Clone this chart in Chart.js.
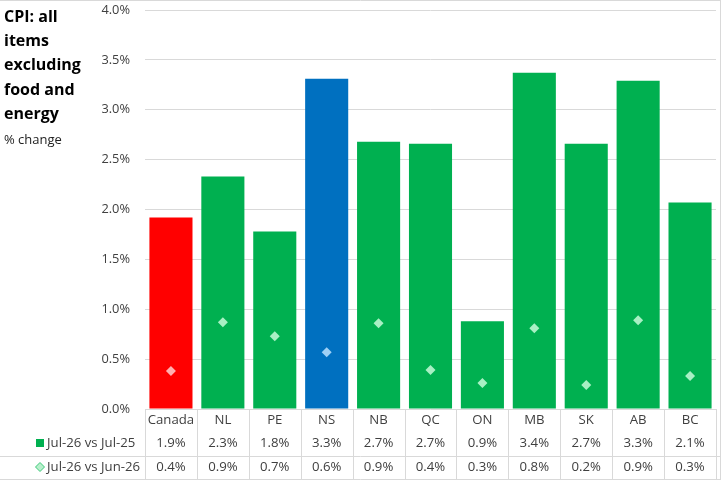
<!DOCTYPE html>
<html>
<head>
<meta charset="utf-8">
<script src="https://cdn.jsdelivr.net/npm/chart.js@4/dist/chart.umd.min.js"></script>
<style>
html,body{margin:0;padding:0;background:#fff;}
#c{display:block;}
</style>
</head>
<body>
<canvas id="c" width="721" height="481"></canvas>
<script>
const categories = ['Canada','NL','PE','NS','NB','QC','ON','MB','SK','AB','BC'];
const yoyValues = [1.92,2.33,1.78,3.31,2.68,2.66,0.88,3.37,2.66,3.29,2.07];
const momValues = [0.38,0.87,0.73,0.57,0.86,0.39,0.26,0.81,0.24,0.89,0.33];
const seriesLabels = ['Jul-26 vs Jul-25','Jul-26 vs Jun-26'];
const titleLines = ['CPI: all','items','excluding','food and','energy'];
const unitLabel = '% change';
const yMin = 0, yMax = 4, yStep = 0.5;

const RED = '#FF0000', GREEN = '#00B050', BLUE = '#0070C0';
const barColors = categories.map(c => c === 'Canada' ? RED : (c === 'NS' ? BLUE : GREEN));
const pointColors = categories.map(c => c === 'Canada' ? '#ffb0b0' : (c === 'NS' ? '#9fd0f5' : '#a8f0c4'));
const GRID = '#d9d9d9';
const TXT = '#404040';
const FONT = "'Open Sans', 'Noto Sans', sans-serif";

const fmt = v => v.toFixed(1) + '%';

const tablePlugin = {
  id: 'tablePlugin',
  afterDraw(chart) {
    const ctx = chart.ctx;
    const xs = chart.scales.x;
    const area = chart.chartArea;
    const n = categories.length;
    const colW = (xs.right - xs.left) / n;
    const row0 = 420, row1 = 443, row2 = 467;
    ctx.save();
    ctx.strokeStyle = GRID;
    ctx.lineWidth = 1;
    ctx.beginPath();
    ctx.moveTo(0, 0.5); ctx.lineTo(721, 0.5);
    ctx.moveTo(720.5, 0); ctx.lineTo(720.5, 480);
    for (let i = 0; i <= n; i++) {
      const x = Math.round(xs.left + i * colW) + 0.5;
      ctx.moveTo(x, area.bottom); ctx.lineTo(x, 480);
    }
    ctx.moveTo(0, 456.5); ctx.lineTo(721, 456.5);
    ctx.moveTo(0, 479.5); ctx.lineTo(721, 479.5);
    ctx.stroke();

    ctx.fillStyle = TXT;
    ctx.font = '13.2px ' + FONT;
    ctx.textAlign = 'center';
    ctx.textBaseline = 'middle';
    for (let i = 0; i < n; i++) {
      const cx = xs.getPixelForValue(i);
      ctx.fillText(categories[i], cx, row0);
      ctx.fillText(fmt(yoyValues[i]), cx, row1);
      ctx.fillText(fmt(momValues[i]), cx, row2);
    }
    ctx.textAlign = 'left';
    ctx.fillText(seriesLabels[0], 47, row1);
    ctx.fillText(seriesLabels[1], 47, row2);
    ctx.fillStyle = GREEN;
    ctx.fillRect(36, row1 - 4, 8, 8);
    ctx.beginPath();
    ctx.moveTo(40, row2 - 4.5); ctx.lineTo(44.5, row2); ctx.lineTo(40, row2 + 4.5); ctx.lineTo(35.5, row2);
    ctx.closePath();
    ctx.fillStyle = '#b8f0cc';
    ctx.fill();
    ctx.strokeStyle = '#3cc878';
    ctx.lineWidth = 1;
    ctx.stroke();

    ctx.fillStyle = '#000';
    ctx.font = 'bold 16px ' + FONT;
    ctx.textBaseline = 'alphabetic';
    titleLines.forEach((t, i) => ctx.fillText(t, 4, 22 + i * 24.2));
    ctx.font = '13px ' + FONT;
    ctx.fillStyle = '#222';
    ctx.fillText(unitLabel, 4, 144);
    ctx.restore();
  }
};

new Chart(document.getElementById('c'), {
  type: 'bar',
  data: {
    labels: categories,
    datasets: [
      {
        type: 'line',
        label: seriesLabels[1],
        data: momValues,
        showLine: false,
        pointStyle: 'rectRot',
        pointRadius: 5,
        pointBorderWidth: 0,
        pointBackgroundColor: pointColors,
        pointBorderColor: 'rgba(255,255,255,0)',
        order: 0
      },
      {
        type: 'bar',
        label: seriesLabels[0],
        data: yoyValues,
        backgroundColor: barColors,
        categoryPercentage: 1,
        barPercentage: 0.83,
        order: 1
      }
    ]
  },
  options: {
    responsive: false,
    animation: false,
    devicePixelRatio: 1,
    layout: { padding: { top: 10, right: 0, left: 0, bottom: 0 } },
    plugins: { legend: { display: false }, tooltip: { enabled: false } },
    scales: {
      x: {
        grid: { display: false },
        border: { display: false },
        ticks: { display: false },
        afterFit: s => { s.height = 72; s.paddingLeft = 0; s.paddingRight = 0; }
      },
      y: {
        min: yMin, max: yMax,
        grid: { color: GRID, drawTicks: false },
        border: { display: false },
        ticks: {
          stepSize: yStep,
          color: TXT,
          padding: 15,
          font: { family: FONT, size: 12.8 },
          callback: v => fmt(v)
        },
        afterFit: s => { s.width = 145; s.paddingTop = 0; s.paddingBottom = 0; }
      }
    }
  },
  plugins: [tablePlugin]
});
</script>
</body>
</html>
